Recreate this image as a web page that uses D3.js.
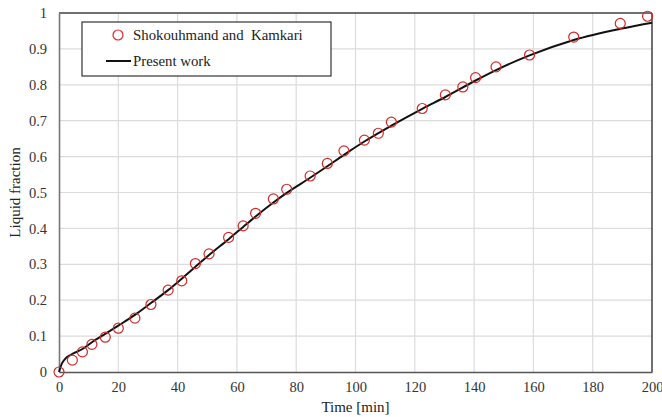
<!DOCTYPE html>
<html>
<head>
<meta charset="utf-8">
<script src="https://cdn.jsdelivr.net/npm/d3@7"></script>
<style>
  html, body { margin: 0; padding: 0; background: #fff; }
  svg { display: block; }
  svg text { font-family: "Liberation Serif", "Times New Roman", serif; }
</style>
</head>
<body>
<svg id="chart" width="662" height="417"></svg>
<script>
// Experimental liquid fraction (Shokouhmand and Kamkari)
const expTime = [0, 4.5, 7.9, 11.1, 15.6, 20, 25.6, 31, 36.8, 41.4, 46, 50.6, 57.2, 62.1, 66.3, 72.3, 76.8, 84.7, 90.5, 96.1, 103, 107.7, 112.1, 122.5, 130.3, 136.2, 140.5, 147.4, 158.7, 173.6, 189.3, 198.5];
const expFrac = [0, 0.033, 0.056, 0.077, 0.097, 0.122, 0.150, 0.188, 0.228, 0.254, 0.302, 0.329, 0.375, 0.407, 0.442, 0.482, 0.509, 0.546, 0.581, 0.616, 0.646, 0.665, 0.696, 0.734, 0.772, 0.794, 0.820, 0.850, 0.883, 0.933, 0.971, 0.991];

// Simulated liquid fraction (present work)
const simTime = [0, 0.5, 1, 2, 4, 7.9, 11.1, 15.6, 20, 25.6, 31, 36.8, 41.4, 46, 50.6, 57.2, 62.1, 66.3, 72.3, 76.8, 84.7, 90.5, 96.1, 103, 112.1, 122.5, 130.3, 140.5, 147.4, 158.7, 173.6, 189.3, 200];
const simFrac = [0, 0.014, 0.024, 0.036, 0.048, 0.064, 0.083, 0.106, 0.129, 0.159, 0.192, 0.228, 0.260, 0.293, 0.326, 0.370, 0.404, 0.433, 0.472, 0.499, 0.541, 0.573, 0.605, 0.642, 0.686, 0.733, 0.766, 0.812, 0.841, 0.882, 0.925, 0.956, 0.973];

const xTicks = [0, 20, 40, 60, 80, 100, 120, 140, 160, 180, 200];
const yTicks = [0, 0.1, 0.2, 0.3, 0.4, 0.5, 0.6, 0.7, 0.8, 0.9, 1];

const FONT = "Liberation Serif, Times New Roman, serif";
const svg = d3.select("#chart");
const margin = { left: 59, right: 10, top: 13, bottom: 45 };
const W = 662, H = 417;
const x = d3.scaleLinear().domain([0, 200]).range([margin.left, W - margin.right]);
const y = d3.scaleLinear().domain([0, 1]).range([H - margin.bottom, margin.top]);

// grid
const grid = svg.append("g");
grid.selectAll("line.v").data(xTicks.slice(1, -1)).join("line")
  .attr("x1", d => x(d)).attr("x2", d => x(d))
  .attr("y1", y(0)).attr("y2", y(1))
  .attr("stroke", "#dcdcdc").attr("stroke-width", 1.2);
grid.selectAll("line.h").data(yTicks.slice(1, -1)).join("line")
  .attr("x1", x(0)).attr("x2", x(200))
  .attr("y1", d => y(d)).attr("y2", d => y(d))
  .attr("stroke", "#dcdcdc").attr("stroke-width", 1.2);

// frame
svg.append("line").attr("x1", x(0)).attr("x2", x(200)).attr("y1", y(1)).attr("y2", y(1))
  .attr("stroke", "#404040").attr("stroke-width", 1.3);
svg.append("line").attr("x1", x(200)).attr("x2", x(200)).attr("y1", y(1)).attr("y2", y(0))
  .attr("stroke", "#222").attr("stroke-width", 1.3);

// axes
const xAxis = svg.append("g").attr("transform", `translate(0,${y(0)})`)
  .call(d3.axisBottom(x).tickValues(xTicks).tickSize(0).tickPadding(10).tickFormat(d3.format("d")));
const yAxis = svg.append("g").attr("transform", `translate(${x(0)},0)`)
  .call(d3.axisLeft(y).tickValues(yTicks).tickSize(0).tickPadding(12).tickFormat(d => d === 0 || d === 1 ? String(d) : d.toFixed(1)));
[xAxis, yAxis].forEach(a => a.attr("font-family", FONT));
xAxis.select(".domain").attr("stroke", "#555").attr("stroke-width", 1.6);
yAxis.select(".domain").attr("stroke", "#777").attr("stroke-width", 1.6);
svg.selectAll(".tick text").attr("font-family", FONT)
  .attr("font-size", 14.5).attr("fill", "#333");

// axis titles
svg.append("text").attr("x", (x(0) + x(200)) / 2).attr("y", 412)
  .attr("text-anchor", "middle").attr("font-family", FONT).attr("font-size", 15).attr("fill", "#222").text("Time [min]");
svg.append("text").attr("transform", `translate(20,${(y(0) + y(1)) / 2}) rotate(-90)`)
  .attr("text-anchor", "middle").attr("font-family", FONT).attr("font-size", 15).attr("fill", "#222").text("Liquid fraction");

// simulation curve
const line = d3.line().x(d => x(d[0])).y(d => y(d[1])).curve(d3.curveMonotoneX);
svg.append("path").datum(d3.zip(simTime, simFrac))
  .attr("d", line).attr("fill", "none").attr("stroke", "#111").attr("stroke-width", 2);

// experimental markers
svg.append("g").selectAll("circle").data(d3.zip(expTime, expFrac)).join("circle")
  .attr("cx", d => x(d[0])).attr("cy", d => y(d[1])).attr("r", 5)
  .attr("fill", "none").attr("stroke", "#d42a2a").attr("stroke-width", 1.2);

// legend
const lg = svg.append("g").attr("font-family", FONT);
lg.append("rect").attr("x", 82).attr("y", 22).attr("width", 249).attr("height", 54)
  .attr("fill", "#fff").attr("stroke", "#333").attr("stroke-width", 1.2);
lg.append("circle").attr("cx", 118).attr("cy", 35).attr("r", 5)
  .attr("fill", "none").attr("stroke", "#d42a2a").attr("stroke-width", 1.2);
lg.append("text").attr("x", 133).attr("y", 40).attr("font-size", 14.8).attr("fill", "#222")
  .style("white-space", "pre").text("Shokouhmand and  Kamkari");
lg.append("line").attr("x1", 106).attr("x2", 131).attr("y1", 61).attr("y2", 61)
  .attr("stroke", "#111").attr("stroke-width", 2);
lg.append("text").attr("x", 133).attr("y", 66).attr("font-size", 14.8).attr("fill", "#222").text("Present work");
</script>
</body>
</html>
